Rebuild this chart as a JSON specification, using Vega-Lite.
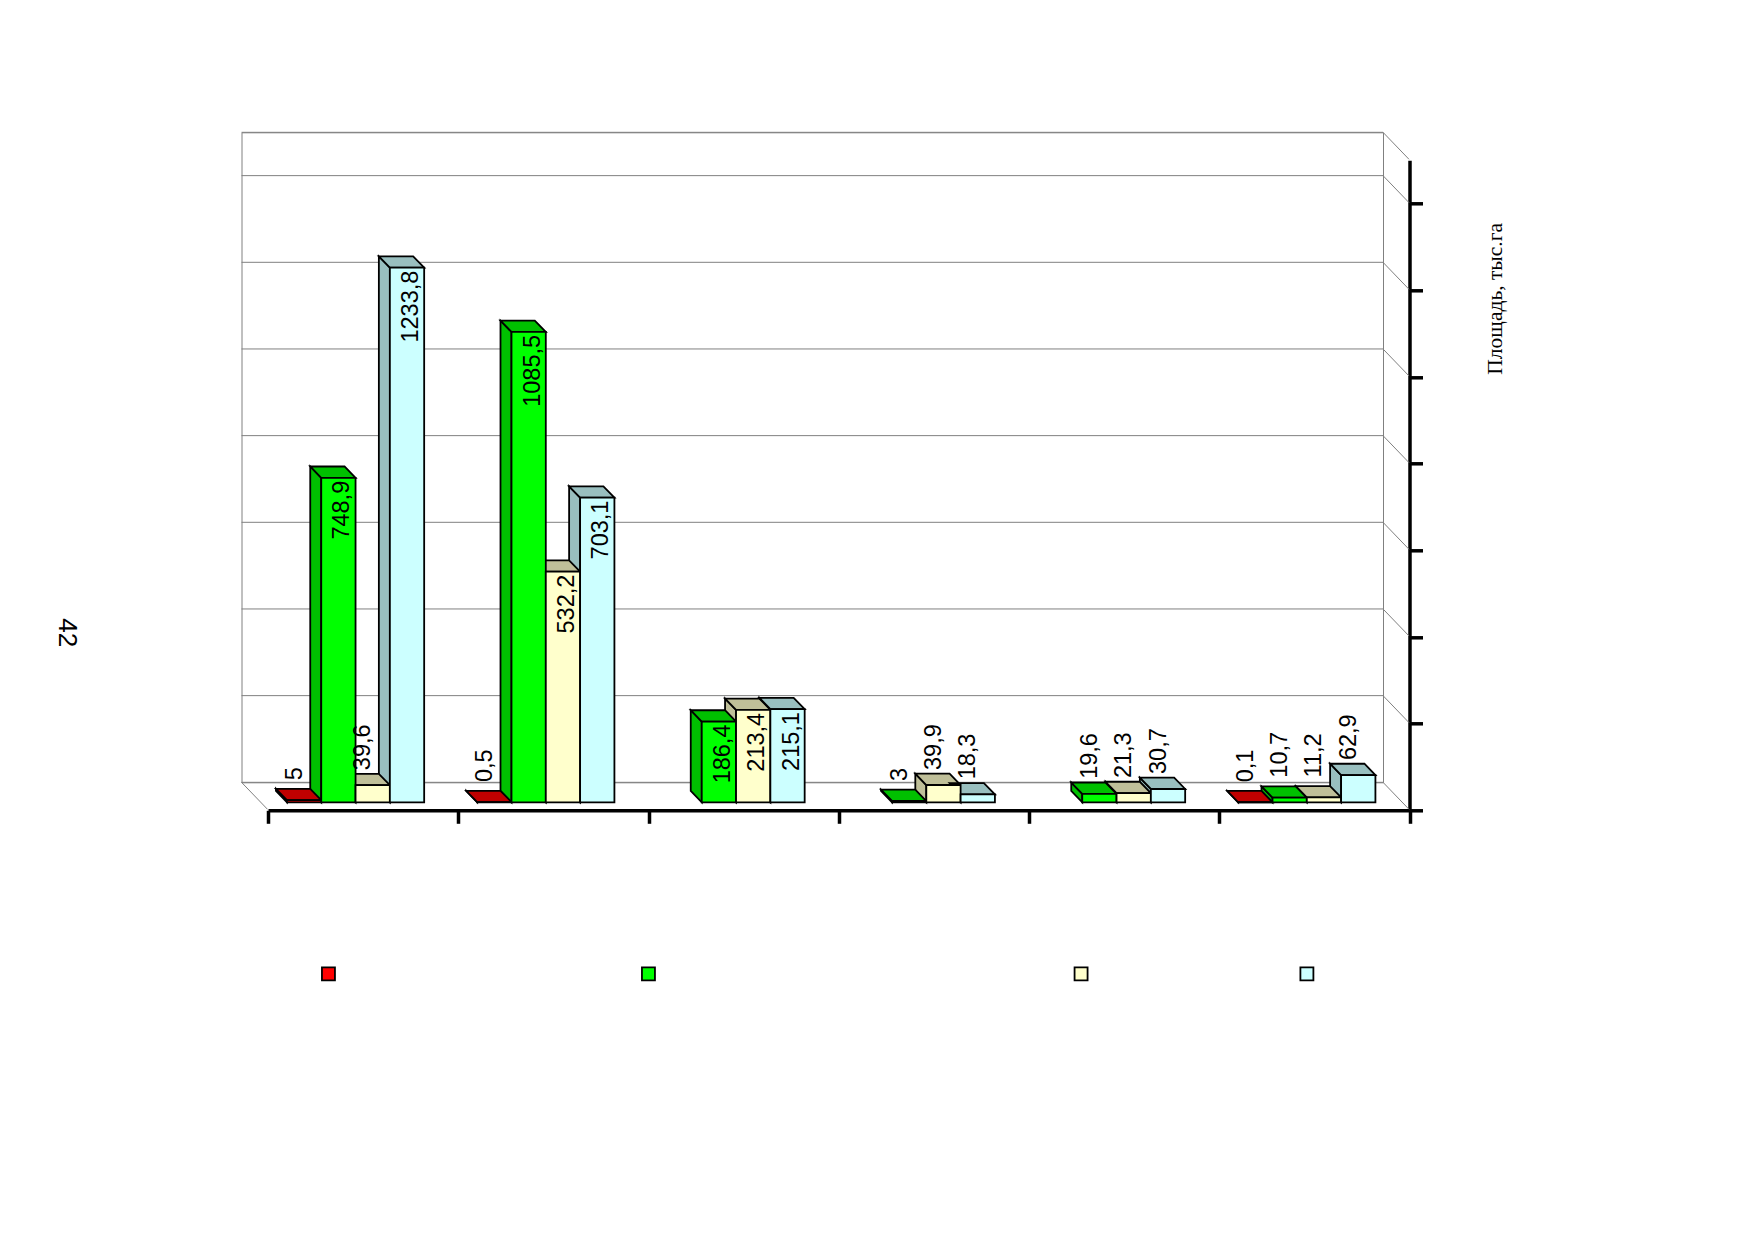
{
  "$schema": "https://vega.github.io/schema/vega-lite/v6.json",
  "width": 1141.5,
  "height": 650,
  "autosize": "none",
  "padding": {"left": 241.5, "top": 132.3, "right": 371, "bottom": 456.7},
  "background": "white",
  "config": {"view": {"stroke": "#808080", "strokeWidth": 1}},
  "datasets": {
    "bars": [
      {"group": "1", "series": "s1", "value": 5, "label": "5"},
      {"group": "1", "series": "s2", "value": 748.9, "label": "748,9"},
      {"group": "1", "series": "s3", "value": 39.6, "label": "39,6"},
      {"group": "1", "series": "s4", "value": 1233.8, "label": "1233,8"},
      {"group": "2", "series": "s1", "value": 0.5, "label": "0,5"},
      {"group": "2", "series": "s2", "value": 1085.5, "label": "1085,5"},
      {"group": "2", "series": "s3", "value": 532.2, "label": "532,2"},
      {"group": "2", "series": "s4", "value": 703.1, "label": "703,1"},
      {"group": "3", "series": "s2", "value": 186.4, "label": "186,4"},
      {"group": "3", "series": "s3", "value": 213.4, "label": "213,4"},
      {"group": "3", "series": "s4", "value": 215.1, "label": "215,1"},
      {"group": "4", "series": "s2", "value": 3, "label": "3"},
      {"group": "4", "series": "s3", "value": 39.9, "label": "39,9"},
      {"group": "4", "series": "s4", "value": 18.3, "label": "18,3"},
      {"group": "5", "series": "s2", "value": 19.6, "label": "19,6"},
      {"group": "5", "series": "s3", "value": 21.3, "label": "21,3"},
      {"group": "5", "series": "s4", "value": 30.7, "label": "30,7"},
      {"group": "6", "series": "s1", "value": 0.1, "label": "0,1"},
      {"group": "6", "series": "s2", "value": 10.7, "label": "10,7"},
      {"group": "6", "series": "s3", "value": 11.2, "label": "11,2"},
      {"group": "6", "series": "s4", "value": 62.9, "label": "62,9"}
    ],
    "grid": [
      {"level": 0}, {"level": 200}, {"level": 400}, {"level": 600},
      {"level": 800}, {"level": 1000}, {"level": 1200}, {"level": 1400}, {"level": 1500}
    ],
    "keys": [
      {"series": "s1", "at": 0.457, "level": -442},
      {"series": "s2", "at": 2.139, "level": -442},
      {"series": "s3", "at": 4.413, "level": -442},
      {"series": "s4", "at": 5.6, "level": -442}
    ],
    "page": [
      {"name": "42", "at": -0.915, "level": 345}
    ]
  },
  "resolve": {"scale": {"x": "independent", "fill": "independent"}},
  "layer": [
    {
      "resolve": {"scale": {"fill": "independent"}},
      "encoding": {
        "x": {
          "field": "group",
          "type": "nominal",
          "scale": {"type": "band", "domain": ["1", "2", "3", "4", "5", "6"], "paddingInner": 0, "paddingOuter": 0},
          "axis": {
            "orient": "bottom",
            "translate": 27,
            "offset": 1.5,
            "title": null,
            "labels": false,
            "grid": false,
            "tickBand": "extent",
            "tickSize": 13,
            "tickWidth": 3.5,
            "tickColor": "black",
            "domainWidth": 3.5,
            "domainColor": "black"
          }
        },
        "xOffset": {
          "field": "series",
          "type": "nominal",
          "scale": {"type": "band", "domain": ["s1", "s2", "s3", "s4"], "paddingInner": 0, "paddingOuter": 0.7726, "align": 0.857}
        },
        "y": {
          "field": "value",
          "type": "quantitative",
          "scale": {"domain": [0, 1500], "nice": false, "zero": false},
          "axis": {
            "orient": "right",
            "translate": 27,
            "position": 1.5,
            "values": [0, 200, 400, 600, 800, 1000, 1200, 1400],
            "labels": false,
            "grid": false,
            "tickSize": 13,
            "tickWidth": 3.5,
            "tickColor": "black",
            "domainWidth": 3.5,
            "domainColor": "black",
            "title": "Площадь, тыс.га",
            "titleFont": "Liberation Serif",
            "titleFontSize": 21.5,
            "titleFontWeight": "normal",
            "titleColor": "black",
            "titleAngle": 270,
            "titleBaseline": "middle",
            "titleX": 86,
            "titleY": 138
          }
        }
      },
      "layer": [
        {
          "data": {"name": "grid"},
          "mark": {"type": "rule", "color": "#808080", "strokeWidth": 1},
          "encoding": {
            "x": null,
            "xOffset": null,
            "y": {"field": "level", "type": "quantitative"}
          }
        },
        {
          "data": {"name": "grid"},
          "mark": {"type": "point", "shape": "M0 0L26 27", "size": 4, "filled": false, "stroke": "#808080", "strokeWidth": 1, "opacity": 1},
          "encoding": {
            "x": {"datum": "6", "type": "nominal", "bandPosition": 1},
            "xOffset": null,
            "y": {"field": "level", "type": "quantitative"}
          }
        },
        {
          "data": {"name": "grid"},
          "transform": [{"filter": "datum.level == 0"}],
          "mark": {"type": "point", "shape": "M0 0L26 27", "size": 4, "filled": false, "stroke": "#808080", "strokeWidth": 1, "opacity": 1},
          "encoding": {
            "x": {"datum": "1", "type": "nominal", "bandPosition": 0},
            "xOffset": null,
            "y": {"field": "level", "type": "quantitative"}
          }
        },
        {
          "data": {"name": "bars"},
          "mark": {
            "type": "point",
            "filled": true,
            "size": 4,
            "opacity": 1,
            "stroke": "black",
            "strokeWidth": 1.8,
            "yOffset": 20,
            "shape": {"expr": "'M-17.15 0L-28.15 -11.3L-28.15 ' + (round(datum.value * 43.333) / 100 - 11.3) + 'L-17.15 ' + (round(datum.value * 43.333) / 100) + 'Z'"}
          },
          "encoding": {
            "fill": {"field": "series", "type": "nominal", "legend": null, "scale": {"domain": ["s1", "s2", "s3", "s4"], "range": ["#C00000", "#00C000", "#BFBF99", "#99BFBF"]}}
          }
        },
        {
          "data": {"name": "bars"},
          "mark": {
            "type": "point",
            "filled": true,
            "size": 4,
            "opacity": 1,
            "stroke": "black",
            "strokeWidth": 1.8,
            "yOffset": 20,
            "shape": "M-17.15 0L17.15 0L6.15 -11.3L-28.15 -11.3Z"
          },
          "encoding": {
            "fill": {"field": "series", "type": "nominal", "legend": null, "scale": {"domain": ["s1", "s2", "s3", "s4"], "range": ["#C00000", "#00C000", "#BFBF99", "#99BFBF"]}}
          }
        },
        {
          "data": {"name": "bars"},
          "mark": {"type": "bar", "stroke": "black", "strokeWidth": 1.8, "yOffset": 20, "y2Offset": 20},
          "encoding": {
            "fill": {"field": "series", "type": "nominal", "legend": null, "scale": {"domain": ["s1", "s2", "s3", "s4"], "range": ["#FF0000", "#00FF00", "#FFFFCC", "#CCFFFF"]}},
            "y2": {"datum": 0}
          }
        },
        {
          "data": {"name": "bars"},
          "transform": [{"filter": "datum.value >= 100"}],
          "mark": {"type": "text", "angle": 270, "align": "right", "baseline": "middle", "font": "Liberation Sans", "fontSize": 23.5, "color": "black", "dy": 4, "yOffset": 23},
          "encoding": {"text": {"field": "label", "type": "nominal"}}
        },
        {
          "data": {"name": "bars"},
          "transform": [{"filter": "datum.value < 100 && datum.value >= 12"}],
          "mark": {"type": "text", "angle": 270, "align": "left", "baseline": "middle", "font": "Liberation Sans", "fontSize": 23.5, "color": "black", "dy": -9.5, "yOffset": 5},
          "encoding": {"text": {"field": "label", "type": "nominal"}}
        },
        {
          "data": {"name": "bars"},
          "transform": [{"filter": "datum.value < 12"}],
          "mark": {"type": "text", "angle": 270, "align": "left", "baseline": "middle", "font": "Liberation Sans", "fontSize": 23.5, "color": "black", "dy": -9.5, "yOffset": 0},
          "encoding": {"text": {"field": "label", "type": "nominal"}}
        }
      ]
    },
    {
      "data": {"name": "keys"},
      "mark": {"type": "square", "size": 169, "opacity": 1, "stroke": "black", "strokeWidth": 1.8},
      "encoding": {
        "x": {"field": "at", "type": "quantitative", "scale": {"domain": [0, 6], "nice": false, "zero": false}, "axis": null},
        "y": {"field": "level", "type": "quantitative"},
        "fill": {"field": "series", "type": "nominal", "legend": null, "scale": {"domain": ["s1", "s2", "s3", "s4"], "range": ["#FF0000", "#00FF00", "#FFFFCC", "#CCFFFF"]}}
      }
    },
    {
      "data": {"name": "page"},
      "mark": {"type": "text", "angle": 90, "align": "center", "baseline": "middle", "font": "Liberation Sans", "fontSize": 26, "color": "black"},
      "encoding": {
        "x": {"field": "at", "type": "quantitative", "scale": {"domain": [0, 6], "nice": false, "zero": false}, "axis": null},
        "y": {"field": "level", "type": "quantitative"},
        "text": {"field": "name", "type": "nominal"}
      }
    }
  ]
}
